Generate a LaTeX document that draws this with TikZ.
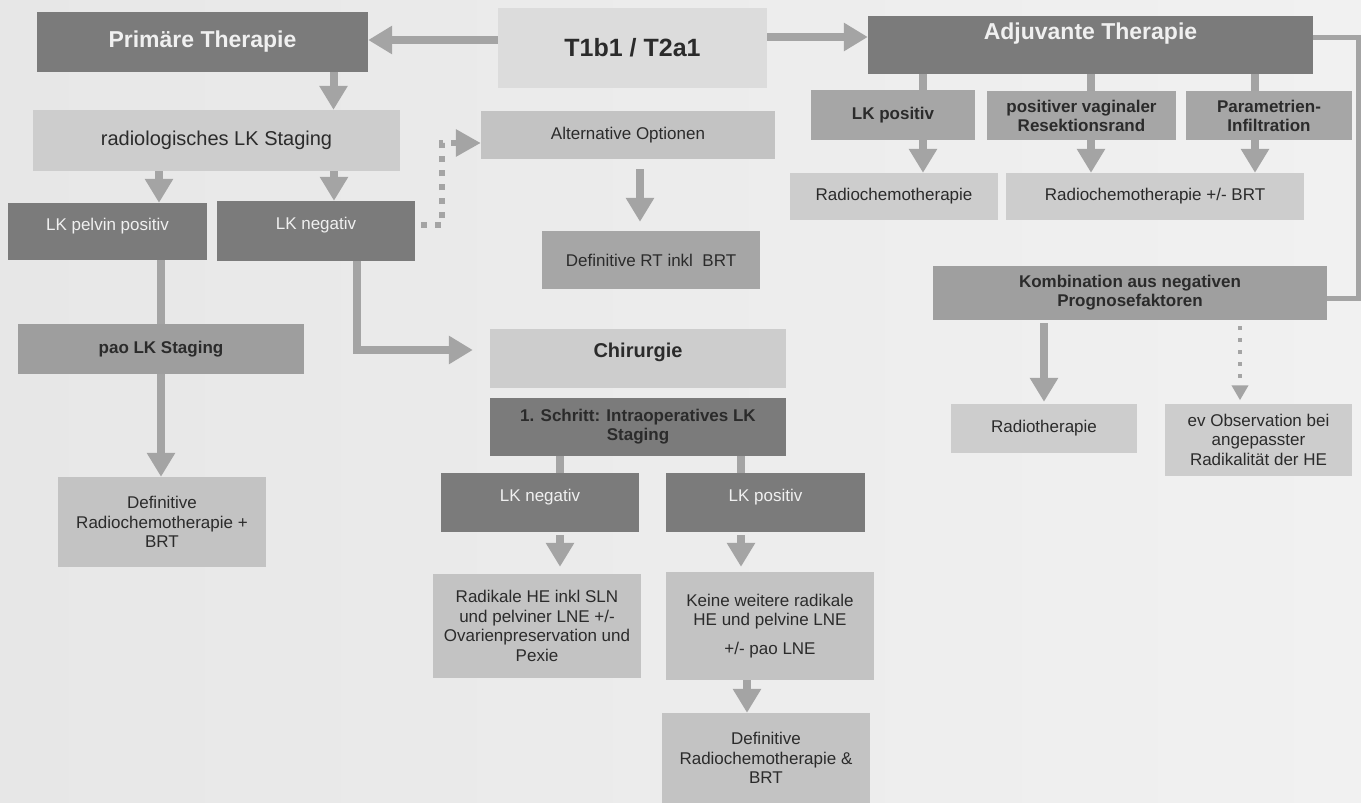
\documentclass[tikz,border=0pt]{standalone}
\usepackage{fontspec}
\setmainfont{Liberation Sans}
\usepackage{xcolor}
\usetikzlibrary{arrows.meta, positioning, calc}

\definecolor{bgleft}{HTML}{E7E7E7}
\definecolor{bgright}{HTML}{F1F1F1}
\definecolor{boxdark}{HTML}{7B7B7B}
\definecolor{boxmid}{HTML}{A6A6A6}
\definecolor{boxpao}{HTML}{9E9E9E}
\definecolor{boxsoft}{HTML}{C3C3C3}
\definecolor{boxlight}{HTML}{CDCDCD}
\definecolor{boxpale}{HTML}{DCDCDC}
\definecolor{arrowgray}{HTML}{A4A4A4}
\definecolor{txtgray}{HTML}{2B2B2B}

\tikzset{
  sz/.style 2 args={minimum width=#1pt, minimum height=#2pt},
  box/.style={inner sep=2pt, align=center, text=txtgray, font=\fontsize{17pt}{19.5pt}\selectfont},
  boldbox/.style={box, font=\fontsize{17pt}{19pt}\selectfont\bfseries},
  headfont/.style={font=\fontsize{23pt}{26pt}\selectfont\bfseries},
  darkbox/.style={box, fill=boxdark, text=white!94!black},
  midbox/.style={boldbox, fill=boxmid},
  softbox/.style={box, fill=boxsoft},
  lightbox/.style={box, fill=boxlight},
  raised/.style={text depth=15pt},
  gline/.style={draw=arrowgray, line width=8pt},
  garrow/.style={gline, -{Triangle[length=24pt,width=27pt]}},
  gdots/.style={draw=arrowgray, line width=6pt, dash pattern=on 6pt off 8pt, -{Triangle[length=25pt,width=26pt]}},
  gdotsmall/.style={draw=arrowgray, line width=4pt, dash pattern=on 4pt off 8pt, -{Triangle[length=15pt,width=16pt]}},
}

\begin{document}
\begin{tikzpicture}[x=1pt, y=-1pt]
\useasboundingbox (0,0) rectangle (1361,803);
\shade[left color=bgleft, right color=bgright] (0,0) rectangle (1361,803);

% Kopfzeile
\node[darkbox, headfont, sz={331}{60}] (prim) at (202.5,42) {Primäre Therapie};
\node[box, fill=boxpale, font=\fontsize{25pt}{28pt}\selectfont\bfseries, sz={269}{80}] (t1) at (632.5,48) {T1b1 / T2a1};
\node[darkbox, headfont, sz={445}{58}, text depth=27pt] (adj) at (1090.5,45) {Adjuvante Therapie};

% Primaere Therapie
\node[lightbox, font=\fontsize{20pt}{23pt}\selectfont, sz={367}{61}] (radio) at (216.5,140.5) {radiologisches LK Staging};
\node[darkbox, raised, sz={199}{57}] (pelpos) at (107.5,231.5) {LK pelvin positiv};
\node[darkbox, raised, sz={198}{60}] (neg) at (316,231) {LK negativ};
\node[softbox, sz={294}{48}] (alt) at (628,135) {Alternative Optionen};
\node[midbox, font=\fontsize{17pt}{19pt}\selectfont, sz={218}{58}] (defrt) at (651,260) {Definitive RT inkl~ BRT};
\node[midbox, fill=boxpao, sz={286}{50}] (pao) at (161,349) {pao LK Staging};
\node[softbox, sz={208}{90}] (defrct) at (162,522) {Definitive\\Radiochemotherapie +\\BRT};

% Chirurgie
\node[lightbox, font=\fontsize{20pt}{23pt}\selectfont\bfseries, sz={296}{59}, text depth=17pt] (chir) at (638,358.5) {Chirurgie};
\node[boldbox, fill=boxdark, sz={296}{58}] (step1) at (638,427) {1. Schritt: Intraoperatives LK\\Staging};
\node[darkbox, raised, sz={198}{59}] (neg2) at (540,502.5) {LK negativ};
\node[darkbox, raised, sz={199}{59}] (pos2) at (765.5,502.5) {LK positiv};
\node[softbox, sz={208}{104}] (radik) at (537,626) {Radikale HE inkl SLN\\und pelviner LNE +/-\\Ovarienpreservation und\\Pexie};
\node[softbox, sz={208}{108}] (keine) at (770,626) {Keine weitere radikale\\HE und pelvine LNE\\[9pt]+/- pao LNE};
\node[softbox, sz={208}{90}] (defamp) at (766,758) {Definitive\\Radiochemotherapie \&\\BRT};

% Adjuvante Therapie
\node[midbox, sz={164}{50}] (rpos) at (893,115) {LK positiv};
\node[midbox, sz={189}{49}] (vag) at (1081.5,115.5) {positiver vaginaler\\Resektionsrand};
\node[midbox, sz={166}{49}] (param) at (1269,115.5) {Parametrien-\\Infiltration};
\node[lightbox, sz={208}{47}] (rct) at (894,196.5) {Radiochemotherapie};
\node[lightbox, sz={298}{47}] (rctbrt) at (1155,196.5) {Radiochemotherapie +/- BRT};
\node[midbox, fill=boxmid!96!black, sz={394}{54}] (komb) at (1130,293) {Kombination aus negativen\\Prognosefaktoren};
\node[lightbox, sz={186}{49}] (rt) at (1044,428.5) {Radiotherapie};
\node[lightbox, sz={187}{72}] (obs) at (1258.5,439.5) {ev Observation bei\\angepasster\\Radikalität der HE};

% Pfeile oben
\draw[garrow] ([yshift=8pt]t1.west) -- ([yshift=8pt]t1.west -| prim.east);
\draw[garrow] ([yshift=11pt]t1.east) -- ([yshift=11pt]t1.east -| adj.west);

% linker Ast
\draw[garrow] ([xshift=131pt]prim.south) -- ([xshift=131pt]prim.south |- radio.north);
\draw[garrow] ([xshift=51.5pt]pelpos.north |- radio.south) -- ([xshift=51.5pt]pelpos.north);
\draw[garrow] ([xshift=18pt]neg.north |- radio.south) -- ([xshift=18pt]neg.north);
\draw[gline] (pelpos.south -| pao.north) -- (pao.north);
\draw[garrow] (pao.south) -- (pao.south |- defrct.north);
\draw[garrow, shorten >=17pt] ([xshift=41pt]neg.south) |- ([yshift=8.5pt]chir.west);
\draw[gdots, shorten <=6pt] ([yshift=6pt]neg.east) -- ++(27,0) |- ([yshift=-8pt]alt.west);
\draw[garrow, shorten <=10pt, shorten >=9pt] ([xshift=12pt]alt.south) -- ([xshift=12pt]alt.south |- defrt.north);

% Chirurgie
\draw[gline] ([xshift=20pt]neg2.north |- step1.south) -- ([xshift=20pt]neg2.north);
\draw[gline] ([xshift=-24.5pt]pos2.north |- step1.south) -- ([xshift=-24.5pt]pos2.north);
\draw[garrow, shorten <=3pt, shorten >=7pt] ([xshift=20pt]neg2.south) -- ([xshift=20pt]neg2.south |- radik.north);
\draw[garrow, shorten <=3pt, shorten >=5pt] ([xshift=-24.5pt]pos2.south) -- ([xshift=-24.5pt]pos2.south |- keine.north);
\draw[garrow] ([xshift=-23pt]keine.south) -- ([xshift=-23pt]keine.south |- defamp.north);

% rechter Ast
\foreach \nd/\dx in {rpos/30, vag/9.5, param/-14}{
  \draw[gline] ([xshift=\dx pt]\nd.north) -- ([xshift=\dx pt]\nd.north |- adj.south);
}
\draw[garrow] ([xshift=30pt]rpos.south) -- ([xshift=30pt]rpos.south |- rct.north);
\draw[garrow] ([xshift=9.5pt]vag.south) -- ([xshift=9.5pt]vag.south |- rctbrt.north);
\draw[garrow] ([xshift=-14pt]param.south) -- ([xshift=-14pt]param.south |- rctbrt.north);
\draw[draw=arrowgray, line width=5pt] ([yshift=8pt]adj.east) -- ++(45,0) |- ([yshift=-5pt]komb.east);
\draw[garrow, shorten <=3pt, shorten >=2pt] (komb.south -| rt.north) -- (rt.north);
\draw[gdotsmall, shorten <=6pt, shorten >=3pt] ([xshift=-18.5pt]obs.north |- komb.south) -- ([xshift=-18.5pt]obs.north);

\end{tikzpicture}
\end{document}
